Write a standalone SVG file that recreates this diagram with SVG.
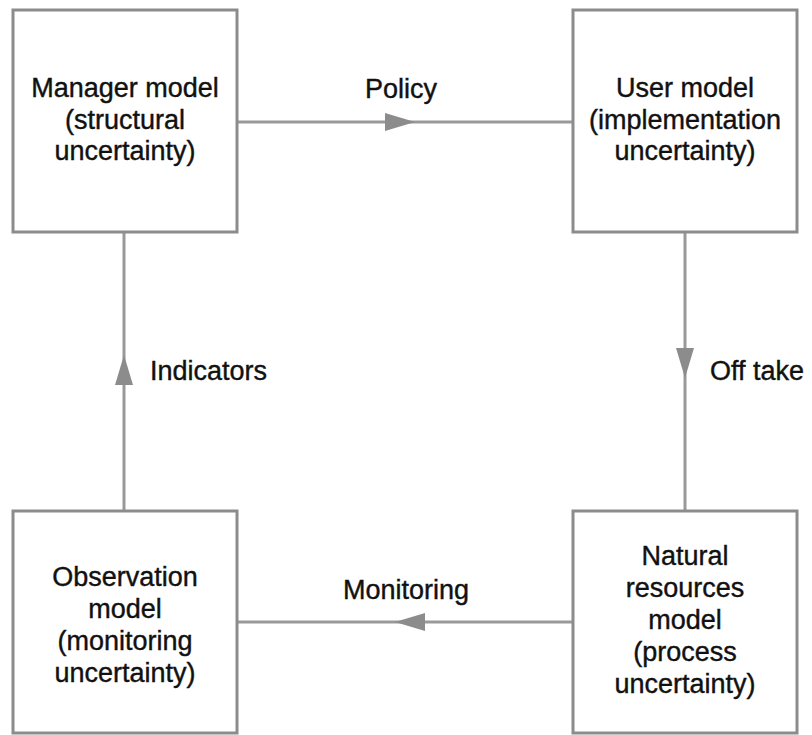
<svg xmlns="http://www.w3.org/2000/svg" width="812" height="735" viewBox="0 0 812 735">
<style>
.box{fill:#fff;stroke:#8c8c8c;stroke-width:3}
.ln{stroke:#999;stroke-width:3;fill:none}
.ah{fill:#8c8c8c;stroke:none}
text{font-family:"Liberation Sans",Arial,Helvetica,sans-serif;font-size:27px;fill:#111;stroke:#111;stroke-width:0.4}
.c{text-anchor:middle}
</style>
<rect width="812" height="735" fill="#fff"/>
<g id="connectors">
<line class="ln" x1="237" y1="122" x2="573" y2="122"/>
<polygon class="ah" points="385,113 415,122 385,131"/>
<line class="ln" x1="685" y1="232" x2="685" y2="511"/>
<polygon class="ah" points="676,348 694,348 685,378"/>
<line class="ln" x1="573" y1="622" x2="237" y2="622"/>
<polygon class="ah" points="425,613 395,622 425,631"/>
<line class="ln" x1="124" y1="511" x2="124" y2="232"/>
<polygon class="ah" points="115,385 133,385 124,355"/>
<text class="c" x="401" y="98">Policy</text>
<text x="710" y="380">Off take</text>
<text class="c" x="406" y="599">Monitoring</text>
<text x="150" y="380">Indicators</text>
</g>
<g id="manager">
<rect class="box" x="13" y="10" width="224" height="222"/>
<text class="c" x="125" y="97">Manager model</text>
<text class="c" x="125" y="129">(structural</text>
<text class="c" x="125" y="160">uncertainty)</text>
</g>
<g id="user">
<rect class="box" x="573" y="10" width="224" height="222"/>
<text class="c" x="685" y="97">User model</text>
<text class="c" x="685" y="129">(implementation</text>
<text class="c" x="685" y="160">uncertainty)</text>
</g>
<g id="observation">
<rect class="box" x="13" y="511" width="224" height="222"/>
<text class="c" x="125" y="586">Observation</text>
<text class="c" x="125" y="618">model</text>
<text class="c" x="125" y="650">(monitoring</text>
<text class="c" x="125" y="682">uncertainty)</text>
</g>
<g id="natural">
<rect class="box" x="573" y="511" width="224" height="222"/>
<text class="c" x="685" y="565">Natural</text>
<text class="c" x="685" y="597">resources</text>
<text class="c" x="685" y="629">model</text>
<text class="c" x="685" y="661">(process</text>
<text class="c" x="685" y="693">uncertainty)</text>
</g>
</svg>
